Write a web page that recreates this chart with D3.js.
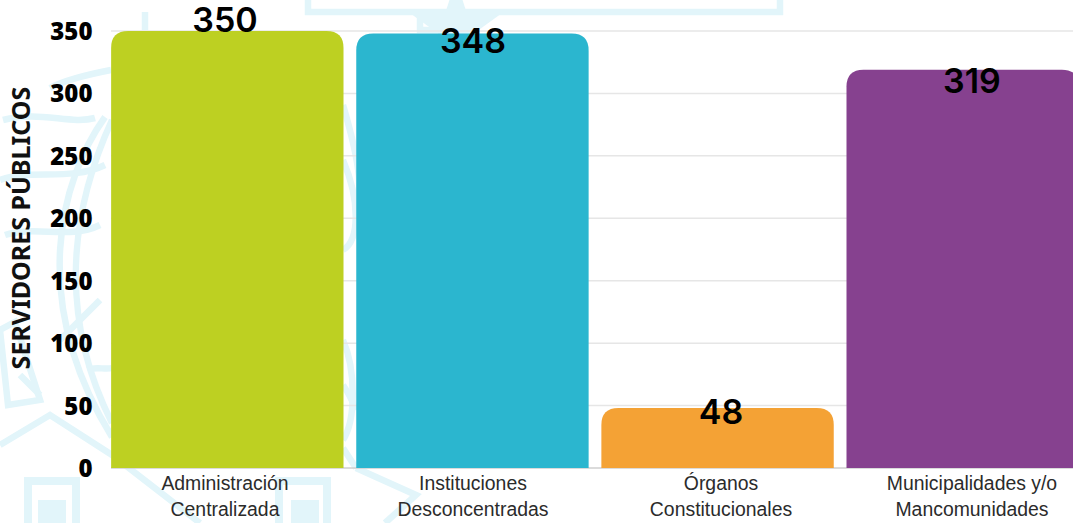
<!DOCTYPE html>
<html><head><meta charset="utf-8">
<script src="https://cdn.jsdelivr.net/npm/d3@7"></script>
<style>html,body{margin:0;padding:0;background:#fff;overflow:hidden}svg{display:block}</style>
</head><body><svg id="c" width="1073" height="523"></svg>
<script>
const categories=[["Administración","Centralizada"],["Instituciones","Desconcentradas"],["Órganos","Constitucionales"],["Municipalidades y/o","Mancomunidades"]];
const values=[350,348,48,319];
const colors=["#BDD022","#2BB6CF","#F4A235","#86418F"];
const yTicks=[0,50,100,150,200,250,300,350];
const watermark=[
"M308 0V12H780V0","M145 12V30","M420 12V30H470",
"M111 70C85 75 65 80 50 88","M3 120C40 110 70 125 95 118","M0 180C30 168 70 182 105 165","M5 235C35 225 70 240 100 225",
"M105 117C60 180 28 300 112 437","M112 120C80 190 50 300 112 423","M60 340L100 300","M88 370C95 366 105 370 112 368",
"M0 445L50 415L112 455L200 523","M356 468L416 495L385 523",
"M0 330L15 322L40 400L8 405Z","M20 375L40 395",
"M343 105C362 170 362 190 356 225","M343 160C360 200 360 240 343 250","M343 385C350 395 352 400 356 410","M343 340C356 370 356 420 343 440","M343 448L356 468",
"M1073 140C1020 120 1000 100 1000 90"];
const svg=d3.select("#c");
const x=d3.scaleBand().domain(d3.range(4)).range([105,1085]).paddingInner(0.052).paddingOuter(0.025);
const y=d3.scaleLinear().domain([0,350]).range([468,31]);
const labelX=d3.scaleOrdinal().domain(d3.range(4)).range([225,473,721,972]);
const labelDy=d3.scaleOrdinal().domain(d3.range(4)).range([1,19.5,16,23]);
const wm=svg.append("g");
wm.selectAll("path").data(watermark).join("path").attr("d",d=>d).attr("fill","none").attr("stroke","#E2F5FA").attr("stroke-width",6.5);
wm.append("path").attr("fill","#E2F5FA").attr("d",d3.symbol(d3.symbolStar,2600)()).attr("transform","translate(456,28)");
[[24,32,38],[275,283,291]].forEach(([a,b,c])=>{
 wm.append("path").attr("fill","#E2F5FA").attr("fill-rule","evenodd").attr("d",`M${a} 523V477H${a+56}V523H${a+48}V485H${b}V523Z`);
 wm.append("path").attr("fill","#E2F5FA").attr("d",`M${c} 523V500H${c+28}V523Z`);
});
svg.append("g").selectAll("line").data(yTicks).join("line").attr("x1",111).attr("x2",1073).attr("y1",d=>y(d)).attr("y2",d=>y(d)).attr("stroke",d=>d===0?"#cfcfcf":"#e6e6e6").attr("stroke-width",1.5);
const barPath=(x0,w,y0,y1,r)=>`M${x0},${y1}V${y0+r}Q${x0},${y0} ${x0+r},${y0}H${x0+w-r}Q${x0+w},${y0} ${x0+w},${y0+r}V${y1}Z`;
svg.append("g").selectAll("path").data(values).join("path")
 .attr("d",(d,i)=>barPath(x(i),x.bandwidth(),y(d),y(0),17)).attr("fill",(d,i)=>colors[i]);
svg.append("g").selectAll("text").data(yTicks).join("text").text(d=>d).attr("x",92.5).attr("y",d=>y(d)+9).attr("text-anchor","end")
 .attr("font-family","Noto Sans").attr("font-weight",900).attr("font-size",24).attr("fill","#000");
svg.append("text").text("SERVIDORES PÚBLICOS").attr("transform","translate(30,228) rotate(-90)").attr("text-anchor","middle")
 .attr("font-family","Noto Sans").attr("font-weight",700).attr("font-size",25).attr("fill","#111");
svg.append("g").selectAll("text").data(values).join("text").text(d=>d).attr("x",(d,i)=>labelX(i)).attr("y",(d,i)=>y(d)+labelDy(i)).attr("text-anchor","middle")
 .attr("font-family","Inter").attr("font-weight",600).attr("font-size",34).attr("fill","#000");
categories.forEach((c,i)=>c.forEach((t,j)=>svg.append("text").text(t).attr("x",labelX(i)).attr("y",490+j*26).attr("text-anchor","middle")
 .attr("font-family","Liberation Sans").attr("font-size",19.4).attr("fill","#2b2b2b")));
</script></body></html>
